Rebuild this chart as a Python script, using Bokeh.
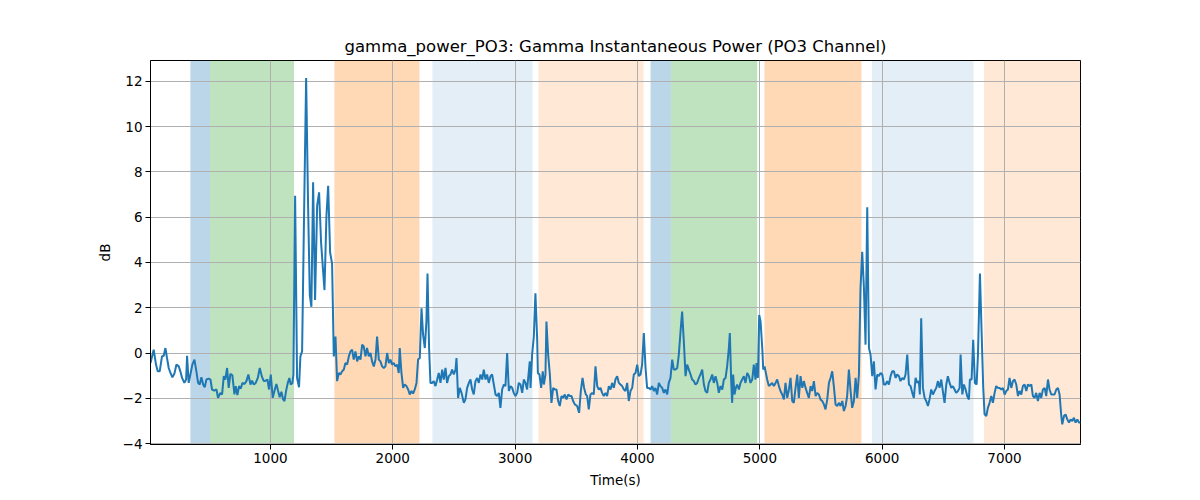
from bokeh.plotting import figure
from bokeh.models import Range1d, BoxAnnotation, FixedTicker, ColumnDataSource
from bokeh.embed import file_html
from bokeh.resources import INLINE

title_text = "gamma_power_PO3: Gamma Instantaneous Power (PO3 Channel)"
x_label = "Time(s)"
y_label = "dB"

x_ticks = [1000, 2000, 3000, 4000, 5000, 6000, 7000]
y_ticks = [-4, -2, 0, 2, 4, 6, 8, 10, 12]

# shaded epochs
region_start = [346, 507, 1523, 2324, 3191, 4107, 4273, 5038, 5916, 6832]
region_end = [507, 1193, 2218, 3142, 4050, 4273, 4979, 5831, 6747, 7621]
region_kind = ["blue", "green", "orange", "lightblue", "lightorange",
               "blue", "green", "orange", "lightblue", "lightorange"]
kind_color = {"blue": ("#1f77b4", 0.3), "green": ("#2ca02c", 0.3),
              "orange": ("#ff7f0e", 0.3), "lightblue": ("#1f77b4", 0.12),
              "lightorange": ("#ff7f0e", 0.17)}

time_s = [
    20, 46, 65, 79, 95, 114, 128, 142, 155, 169, 183, 199, 215, 232, 251, 264, 278, 297, 311, 319,
    332, 346, 362, 379, 395, 409, 422, 436, 450, 463, 477, 496, 510, 523, 542, 559, 572, 591, 605, 619,
    632, 646, 659, 673, 689, 706, 717, 730, 744, 758, 771, 788, 804, 820, 837, 850, 864, 880, 897, 913,
    929, 946, 962, 976, 989, 1003, 1019, 1036, 1049, 1063, 1076, 1090, 1104, 1115, 1128, 1142, 1155, 1166, 1180, 1188,
    1202, 1218, 1234, 1245, 1259, 1275, 1292, 1308, 1322, 1335, 1349, 1365, 1382, 1398, 1414, 1431, 1442, 1458, 1472, 1488,
    1504, 1518, 1532, 1545, 1559, 1572, 1586, 1600, 1613, 1627, 1641, 1654, 1668, 1681, 1695, 1709, 1722, 1736, 1750, 1763,
    1777, 1790, 1804, 1818, 1831, 1845, 1859, 1872, 1886, 1899, 1913, 1927, 1940, 1954, 1968, 1981, 1995, 2008, 2022, 2036,
    2049, 2057, 2071, 2085, 2096, 2112, 2126, 2139, 2153, 2166, 2180, 2194, 2207, 2221, 2235, 2248, 2262, 2275, 2284, 2297,
    2308, 2322, 2335, 2349, 2363, 2376, 2390, 2404, 2417, 2431, 2444, 2458, 2472, 2485, 2499, 2513, 2521, 2534, 2548, 2562,
    2581, 2594, 2608, 2622, 2635, 2649, 2662, 2676, 2690, 2703, 2717, 2731, 2744, 2758, 2771, 2785, 2799, 2812, 2826, 2840,
    2853, 2867, 2880, 2894, 2908, 2921, 2935, 2949, 2962, 2976, 2989, 3003, 3017, 3030, 3044, 3058, 3071, 3085, 3098, 3112,
    3120, 3126, 3139, 3153, 3166, 3180, 3186, 3199, 3213, 3226, 3235, 3248, 3256, 3270, 3284, 3297, 3311, 3325, 3338, 3352,
    3365, 3379, 3393, 3406, 3420, 3434, 3447, 3461, 3474, 3488, 3507, 3523, 3537, 3551, 3564, 3578, 3589, 3602, 3616, 3630,
    3643, 3657, 3671, 3684, 3698, 3711, 3725, 3739, 3752, 3766, 3780, 3793, 3807, 3820, 3834, 3848, 3861, 3875, 3889, 3902,
    3916, 3929, 3943, 3957, 3970, 3984, 3998, 4011, 4025, 4038, 4052, 4066, 4079, 4093, 4107, 4120, 4134, 4147, 4161, 4175,
    4188, 4202, 4216, 4229, 4243, 4256, 4270, 4284, 4297, 4311, 4325, 4338, 4352, 4365, 4379, 4393, 4406, 4420, 4434, 4447,
    4461, 4474, 4488, 4502, 4515, 4529, 4543, 4556, 4570, 4583, 4597, 4611, 4624, 4638, 4652, 4665, 4679, 4693, 4706, 4720,
    4733, 4747, 4755, 4766, 4774, 4782, 4793, 4804, 4815, 4829, 4842, 4856, 4870, 4883, 4897, 4911, 4924, 4938, 4951, 4965,
    4973, 4984, 4995, 5006, 5020, 5028, 5039, 5047, 5060, 5074, 5088, 5101, 5115, 5129, 5142, 5156, 5169, 5183, 5197, 5210,
    5224, 5238, 5251, 5265, 5278, 5292, 5306, 5319, 5333, 5347, 5360, 5374, 5387, 5401, 5415, 5428, 5442, 5456, 5469, 5483,
    5496, 5510, 5524, 5537, 5551, 5565, 5578, 5592, 5605, 5619, 5633, 5646, 5660, 5674, 5687, 5701, 5714, 5728, 5742, 5755,
    5769, 5783, 5796, 5810, 5823, 5837, 5851, 5864, 5878, 5892, 5905, 5919, 5932, 5946, 5960, 5973, 5987, 6001, 6014, 6028,
    6041, 6055, 6069, 6082, 6096, 6110, 6123, 6137, 6150, 6164, 6178, 6191, 6205, 6219, 6232, 6246, 6259, 6273, 6287, 6300,
    6308, 6319, 6333, 6347, 6360, 6374, 6387, 6401, 6415, 6428, 6442, 6456, 6469, 6483, 6496, 6510, 6524, 6537, 6551, 6565,
    6578, 6592, 6605, 6619, 6633, 6641, 6655, 6668, 6682, 6695, 6709, 6717, 6731, 6744, 6758, 6772, 6783, 6799, 6813, 6826,
    6837, 6851, 6864, 6878, 6892, 6905, 6919, 6932, 6946, 6960, 6973, 6987, 7001, 7014, 7028, 7041, 7055, 7069, 7082, 7096,
    7110, 7123, 7137, 7150, 7164, 7178, 7191, 7205, 7219, 7232, 7246, 7259, 7273, 7287, 7300, 7314, 7328, 7341, 7355, 7368,
    7382, 7396, 7409, 7423, 7437, 7450, 7464, 7472, 7486, 7499, 7513, 7527, 7540, 7554, 7567, 7581, 7595, 7608, 7621,
]

power_db = [
    -0.44, 0.15, -0.51, -0.81, -0.81, -0.15, -0.12, 0.22, -0.22, -0.66, -0.88, -1.07, -0.92, -0.51, -0.59, -0.81, -1.10, -1.32, -1.17, -0.12,
    -1.32, -0.95, -0.51, -0.29, -0.81, -1.32, -1.39, -1.07, -1.39, -1.51, -1.17, -1.13, -1.17, -1.61, -1.66, -1.61, -1.98, -1.76, -1.83, -1.02,
    -1.17, -0.66, -1.54, -0.92, -0.98, -1.83, -1.46, -1.86, -1.46, -1.57, -1.32, -1.37, -1.24, -0.95, -1.39, -1.22, -1.39, -1.32, -1.10, -0.66,
    -1.02, -1.24, -1.22, -1.17, -1.61, -0.95, -1.98, -1.61, -1.37, -1.68, -1.95, -1.71, -2.05, -2.12, -1.68, -1.32, -1.10, -1.39, -1.32, -0.95,
    6.95, -1.10, -1.51, -0.15, 0.07, 6.08, 12.15, 6.51, 2.56, 2.04, 7.54, 2.34, 6.51, 7.10, 4.90, 3.59, 2.78, 6.07, 7.39, 4.44,
    3.95, -0.15, 0.73, -1.24, -0.88, -0.95, -0.81, -0.73, -0.44, -0.51, -0.15, 0.07, 0.15, -0.29, 0.07, -0.37, -0.15, -0.29, 0.37, 0.29,
    -0.15, 0.22, -0.15, 0.00, -0.37, -0.59, -0.29, 0.73, -0.29, -0.37, -0.59, -0.66, -0.59, 0.00, -0.44, -0.29, -0.51, -0.44, -0.59, -0.51,
    -0.88, 0.22, -0.88, -1.54, -1.39, -1.46, -1.61, -1.83, -1.68, -1.79, -1.61, -1.32, -0.29, -0.22, 1.98, 0.81, 0.22, 1.39, 3.51, 0.22,
    -1.32, -1.32, -1.24, -1.46, -1.17, -0.88, -1.32, -0.73, -1.17, -0.66, -1.32, -1.02, -0.95, -0.73, -0.95, -0.73, -0.22, -1.98, -1.54, -1.76,
    -2.20, -2.05, -1.54, -1.32, -1.17, -1.61, -1.83, -1.24, -1.10, -1.32, -0.95, -1.17, -0.73, -1.17, -0.95, -1.32, -1.02, -0.95, -1.39, -1.83,
    -1.90, -1.76, -2.42, -1.61, -1.39, -1.46, 0.00, -1.68, -1.46, -1.54, -1.76, -1.90, -1.76, -1.32, -1.39, -1.76, -1.17, -1.32, -1.61, -0.81,
    -0.37, -1.54, -0.07, 0.73, 2.64, 0.66, -0.88, -0.95, -1.54, -0.81, -1.39, -0.95, 1.39, -0.07, -0.95, -2.20, -1.54, -1.61, -1.61, -2.12,
    -2.34, -1.90, -1.98, -1.83, -2.05, -1.83, -1.90, -1.90, -2.12, -2.27, -2.34, -2.64, -1.68, -1.10, -1.54, -1.83, -1.90, -2.49, -1.83, -1.76,
    -1.83, -0.59, -1.46, -1.61, -1.54, -1.76, -1.90, -1.76, -1.90, -1.46, -1.61, -1.32, -1.54, -1.17, -1.02, -1.32, -1.39, -1.46, -1.61, -1.68,
    -1.32, -2.12, -1.68, -1.54, -0.95, -0.88, -0.51, -1.02, -0.95, -0.51, 0.88, -0.66, -1.54, -1.54, -1.61, -1.46, -1.68, -1.54, -1.83, -1.32,
    -1.46, -1.54, -1.76, -1.61, -1.83, -1.32, -1.10, -0.29, -0.73, -0.73, -0.66, -0.07, 0.95, 1.83, 0.51, -1.02, -0.51, -0.73, -0.95, -1.17,
    -1.24, -1.39, -1.32, -1.10, -0.95, -0.73, -1.39, -1.68, -1.76, -1.32, -1.17, -0.95, -1.32, -1.02, -1.32, -1.76, -1.46, -1.61, -1.17, -1.10,
    -0.59, 0.22, 0.88, -1.24, -2.20, -0.95, -1.83, -1.54, -1.39, -1.61, -1.32, -1.17, -1.02, -1.32, -0.88, -1.02, -1.32, -1.17, -0.51, -1.17,
    -0.44, -1.10, 1.68, 1.39, 0.22, -0.73, -0.59, -0.81, -1.17, -1.46, -1.39, -1.32, -1.46, -1.32, -1.17, -1.46, -1.68, -1.83, -2.05, -1.32,
    -1.98, -1.61, -1.10, -2.12, -2.20, -1.54, -0.95, -1.98, -1.02, -1.54, -1.24, -1.54, -1.76, -1.98, -1.46, -1.68, -1.24, -1.90, -1.76, -1.83,
    -2.05, -2.12, -2.27, -2.49, -2.05, -1.32, -1.10, -0.81, -1.46, -2.27, -2.34, -2.20, -2.34, -2.12, -2.56, -2.34, -1.90, -0.73, -1.68, -2.42,
    -2.12, -1.10, -1.98, -0.95, 2.86, 4.47, 2.86, 0.37, 6.44, 0.22, -0.07, -1.02, -0.37, -1.61, -0.95, -1.02, -0.88, -0.95, -1.39, -1.39,
    -1.24, -1.39, -1.02, -0.81, -0.81, -1.10, -0.95, -1.02, -1.24, -1.10, -1.17, -0.95, -0.07, -1.39, -1.46, -1.76, -1.98, -1.10, -1.32, -1.24,
    -1.83, 1.54, -1.54, -1.98, -2.12, -2.34, -2.05, -1.61, -1.83, -1.68, -1.54, -1.24, -1.54, -1.17, -1.68, -2.20, -1.39, -1.02, -1.32, -1.54,
    -1.46, -1.61, -1.76, -1.68, -1.54, -0.07, -1.83, -1.39, -1.61, -1.90, -2.05, -1.17, -1.17, 0.59, -1.32, -1.39, -0.07, 3.51, 0.88, -1.54,
    -2.71, -2.78, -2.42, -2.20, -1.90, -2.20, -1.76, -1.46, -1.54, -1.54, -1.61, -1.54, -1.83, -1.68, -1.61, -1.10, -1.54, -1.24, -1.17, -1.39,
    -1.90, -1.68, -1.83, -1.46, -1.39, -1.68, -1.39, -1.46, -1.39, -1.90, -1.98, -1.76, -2.12, -1.76, -1.98, -1.61, -1.54, -1.90, -1.17, -1.61,
    -1.83, -1.83, -1.83, -1.61, -1.54, -1.83, -2.78, -3.15, -2.78, -2.71, -2.93, -3.07, -2.93, -3.00, -2.86, -3.07, -2.93, -3.07, -3.07,
]

FONT = "DejaVu Sans"

p = figure(width=1200, height=500, output_backend="svg", toolbar_location=None,
           x_range=Range1d(time_s[0], time_s[-1]), y_range=Range1d(-4.04, 12.92),
           min_border_left=150, min_border_right=120, min_border_top=60, min_border_bottom=56,
           title=title_text)

p.title.align = "center"
p.title.text_font = FONT
p.title.text_font_size = "16.5px"
p.title.text_font_style = "normal"
p.title.text_color = "black"

for s, e, k in zip(region_start, region_end, region_kind):
    c, a = kind_color[k]
    p.add_layout(BoxAnnotation(left=s, right=e, fill_color=c, fill_alpha=a,
                               line_color=None, level="image"))

src = ColumnDataSource(dict(t=time_s, v=power_db))
p.line("t", "v", source=src, line_color="#1f77b4", line_width=2)

p.xaxis.ticker = FixedTicker(ticks=x_ticks)
p.yaxis.ticker = FixedTicker(ticks=y_ticks)
p.xaxis.axis_label = x_label
p.yaxis.axis_label = y_label

for ax in (p.xaxis, p.yaxis):
    ax.major_label_text_font = FONT
    ax.major_label_text_font_size = "13.5px"
    ax.major_label_text_color = "black"
    ax.axis_label_text_font = FONT
    ax.axis_label_text_font_size = "13.5px"
    ax.axis_label_text_font_style = "normal"
    ax.axis_label_text_color = "black"
    ax.major_tick_in = 0
    ax.major_tick_out = 5
    ax.minor_tick_in = 0
    ax.minor_tick_out = 0
    ax.axis_line_color = "black"
    ax.major_tick_line_color = "black"
    ax.major_label_standoff = 3

p.xaxis.axis_label_standoff = 6
p.yaxis.axis_label_standoff = 7

p.grid.grid_line_color = "#b0b0b0"
p.grid.grid_line_width = 1

p.outline_line_color = "black"
p.outline_line_alpha = 1
p.outline_line_width = 1
p.background_fill_color = "white"
p.border_fill_color = "white"

open("out.html", "w").write(file_html(p, INLINE))
